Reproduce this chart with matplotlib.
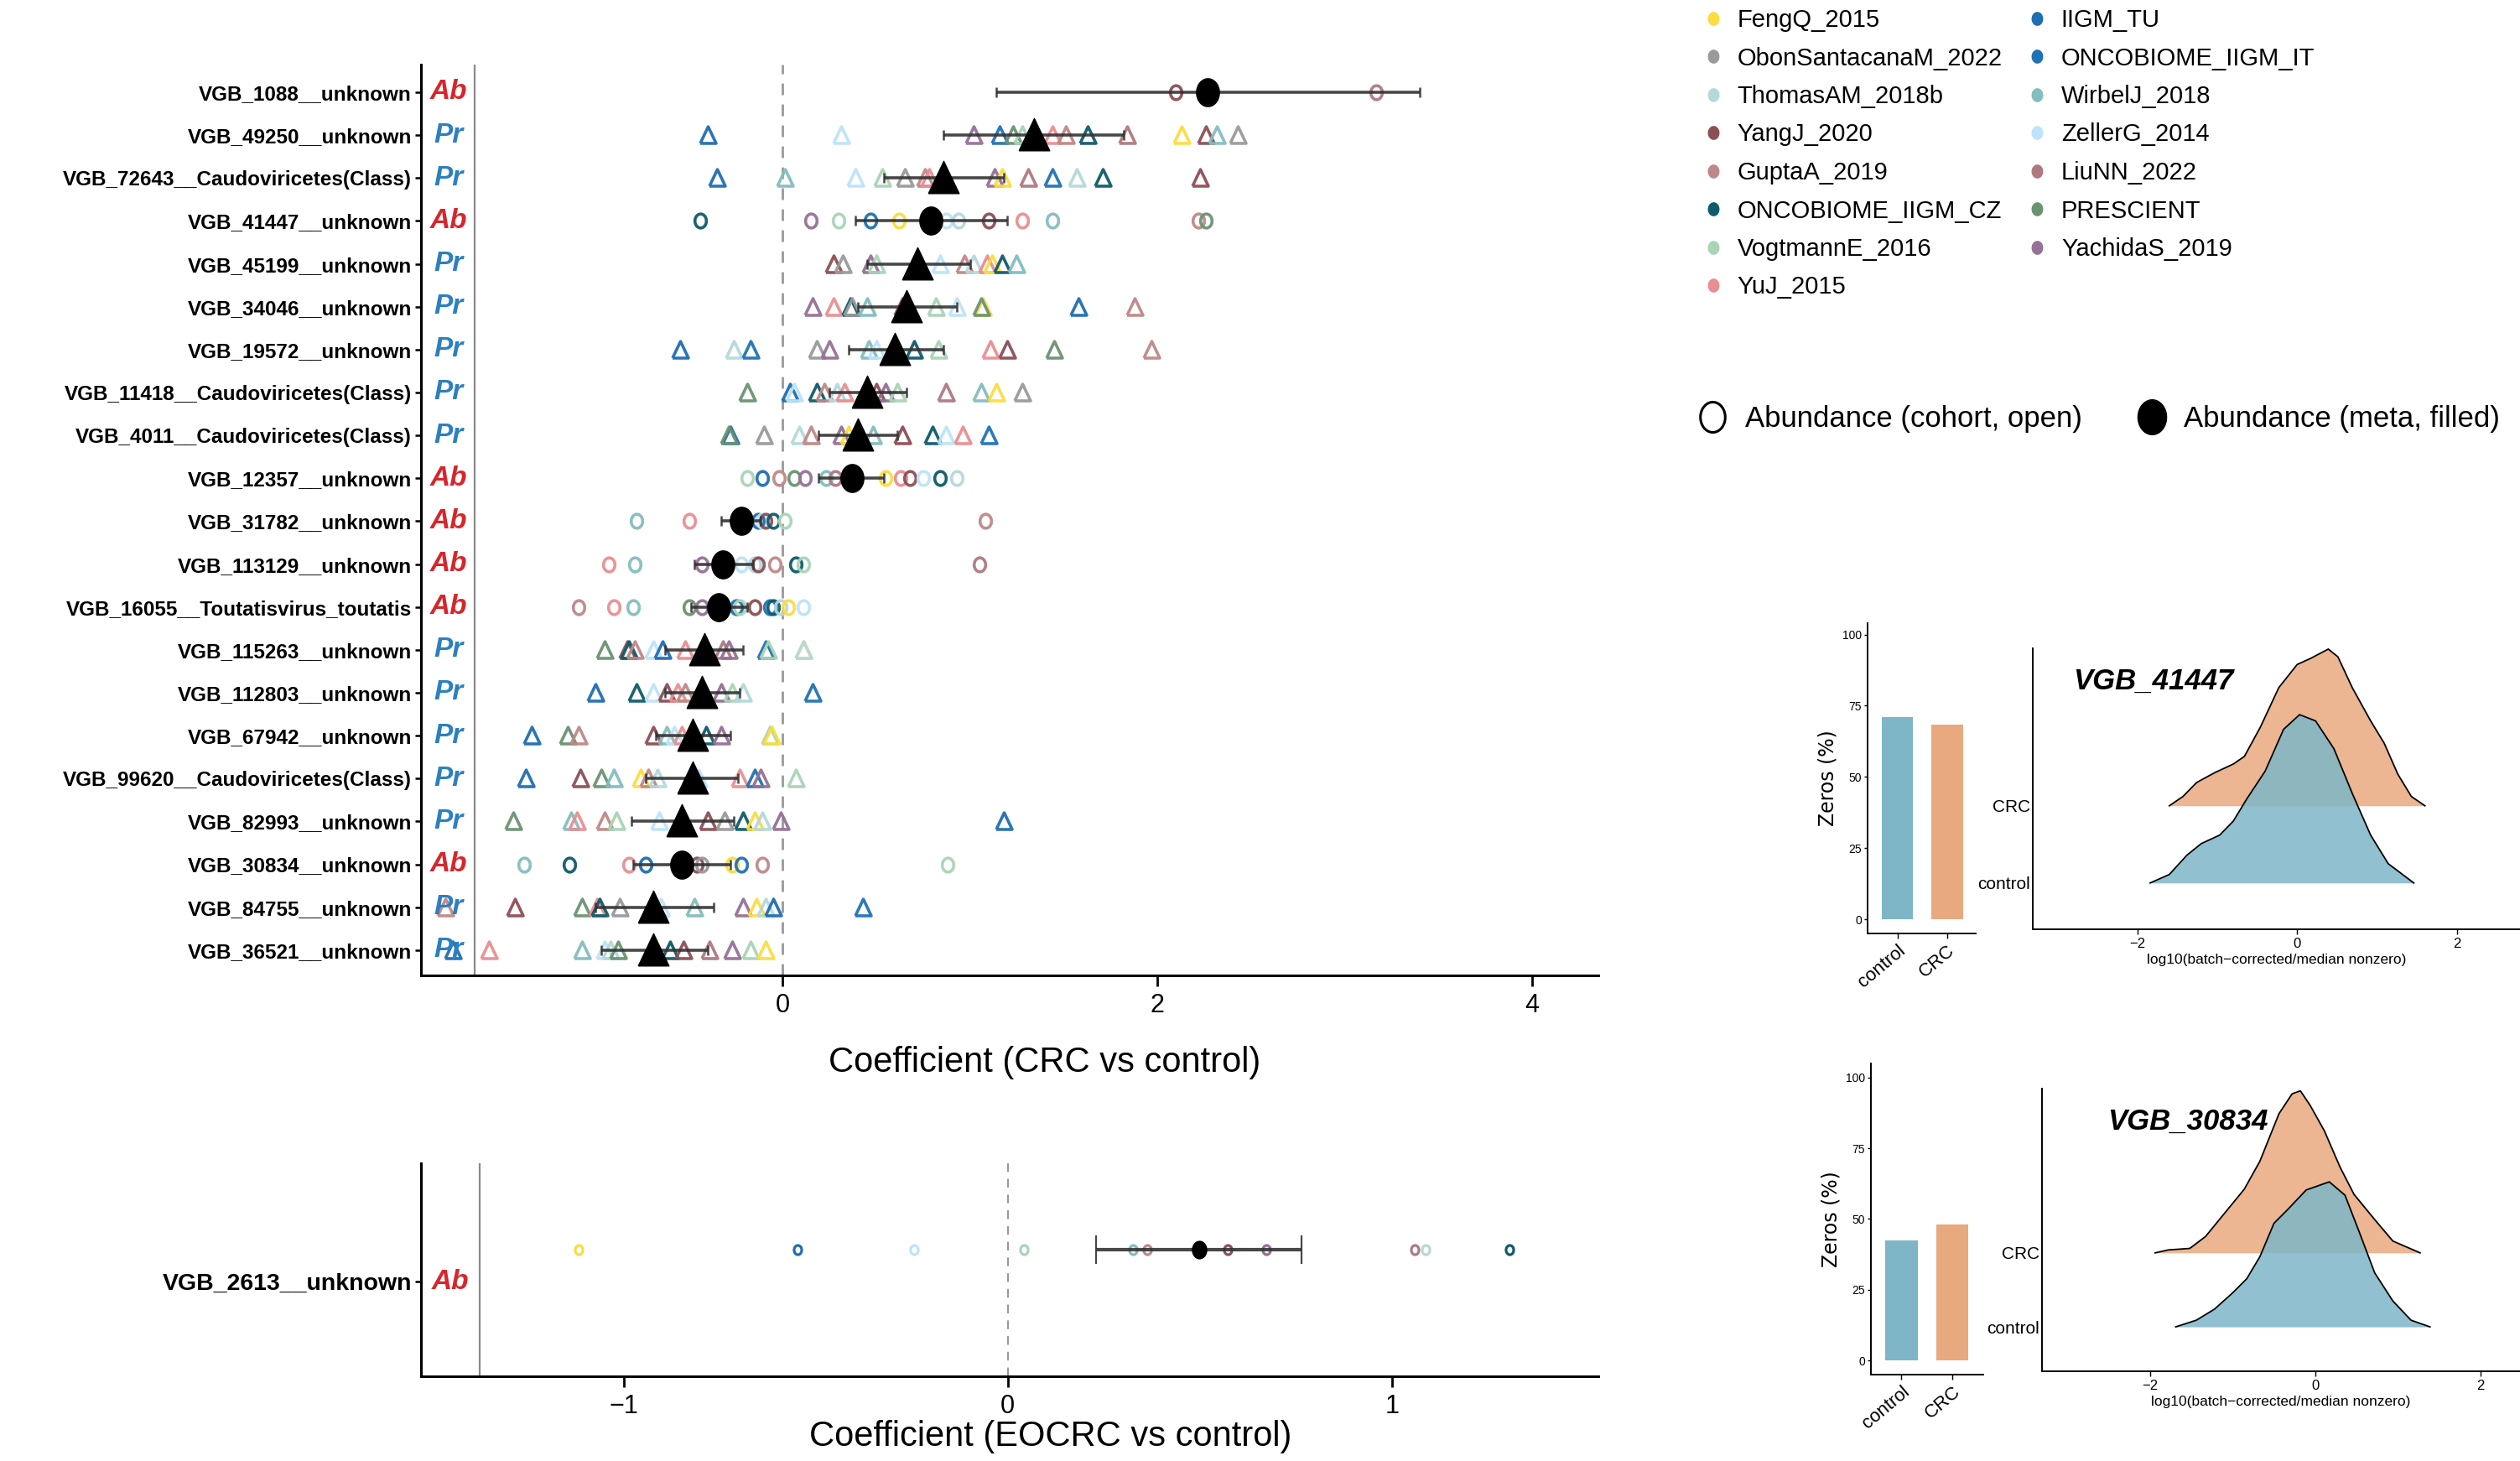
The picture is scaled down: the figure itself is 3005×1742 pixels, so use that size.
import numpy as np
import matplotlib.pyplot as plt
from matplotlib.lines import Line2D

NARROW = ['Liberation Sans Narrow', 'Liberation Sans', 'DejaVu Sans']
plt.rcParams['font.family'] = NARROW

# ---- cohorts ----
cohort_keys = ['Feng', 'Obon', 'Thom', 'Yang', 'Gupt', 'CZ', 'Vogt', 'YuJ',
               'TU', 'IT', 'Wirb', 'Zell', 'Liu', 'PRES', 'Yach']
cohort_names = ['FengQ_2015', 'ObonSantacanaM_2022', 'ThomasAM_2018b', 'YangJ_2020',
                'GuptaA_2019', 'ONCOBIOME_IIGM_CZ', 'VogtmannE_2016', 'YuJ_2015',
                'IIGM_TU', 'ONCOBIOME_IIGM_IT', 'WirbelJ_2018', 'ZellerG_2014',
                'LiuNN_2022', 'PRESCIENT', 'YachidaS_2019']
cohort_colors = ['#FBDD3F', '#9A9A9A', '#B5D8DA', '#8C4F56', '#BF8888', '#0E5B6B',
                 '#A9D4B6', '#E98E92', '#1F6EB0', '#2172B4', '#84BDBE', '#BDE3F8',
                 '#AE7980', '#6A9372', '#957196']
col_of = dict(zip(cohort_keys, cohort_colors))

# ---- CRC vs control ----
features = ['VGB_1088__unknown', 'VGB_49250__unknown', 'VGB_72643__Caudoviricetes(Class)',
            'VGB_41447__unknown', 'VGB_45199__unknown', 'VGB_34046__unknown',
            'VGB_19572__unknown', 'VGB_11418__Caudoviricetes(Class)',
            'VGB_4011__Caudoviricetes(Class)', 'VGB_12357__unknown', 'VGB_31782__unknown',
            'VGB_113129__unknown', 'VGB_16055__Toutatisvirus_toutatis', 'VGB_115263__unknown',
            'VGB_112803__unknown', 'VGB_67942__unknown', 'VGB_99620__Caudoviricetes(Class)',
            'VGB_82993__unknown', 'VGB_30834__unknown', 'VGB_84755__unknown',
            'VGB_36521__unknown']
feat_type = ['Ab', 'Pr', 'Pr', 'Ab', 'Pr', 'Pr', 'Pr', 'Pr', 'Pr', 'Ab', 'Ab',
             'Ab', 'Ab', 'Pr', 'Pr', 'Pr', 'Pr', 'Pr', 'Ab', 'Pr', 'Pr']
meta_est = [2.27, 1.34, 0.86, 0.79, 0.72, 0.66, 0.60, 0.45, 0.40, 0.37, -0.22,
            -0.32, -0.34, -0.42, -0.43, -0.48, -0.48, -0.54, -0.54, -0.69, -0.69]
meta_lo = [1.14, 0.86, 0.54, 0.39, 0.45, 0.40, 0.35, 0.25, 0.19, 0.19, -0.33,
           -0.47, -0.49, -0.63, -0.63, -0.68, -0.73, -0.81, -0.80, -1.00, -0.97]
meta_hi = [3.40, 1.82, 1.18, 1.20, 1.00, 0.93, 0.86, 0.66, 0.61, 0.54, -0.12,
           -0.16, -0.19, -0.21, -0.23, -0.28, -0.24, -0.26, -0.28, -0.37, -0.40]
cohort_pts = [
    [('Yang', 2.10), ('Liu', 3.17)],
    [('TU', -0.40), ('Zell', 0.31), ('Yach', 1.02), ('IT', 1.16), ('PRES', 1.23), ('Vogt', 1.28),
     ('YuJ', 1.44), ('Gupt', 1.51), ('CZ', 1.63), ('Liu', 1.84), ('Feng', 2.13), ('Yang', 2.26),
     ('Wirb', 2.32), ('Obon', 2.43)],
    [('TU', -0.35), ('Wirb', 0.01), ('Zell', 0.39), ('Vogt', 0.53), ('Obon', 0.65), ('Gupt', 0.76),
     ('YuJ', 0.78), ('Yach', 1.13), ('Feng', 1.17), ('Liu', 1.31), ('IT', 1.44), ('Thom', 1.57),
     ('CZ', 1.71), ('Yang', 2.23)],
    [('CZ', -0.44), ('Yach', 0.15), ('Vogt', 0.30), ('IT', 0.47), ('Feng', 0.62), ('Zell', 0.87),
     ('Thom', 0.94), ('Yang', 1.10), ('YuJ', 1.28), ('Wirb', 1.44), ('Gupt', 2.22), ('PRES', 2.26)],
    [('Yang', 0.27), ('Obon', 0.32), ('Yach', 0.47), ('Vogt', 0.50), ('Zell', 0.84), ('Gupt', 0.97),
     ('Thom', 1.02), ('YuJ', 1.09), ('Feng', 1.12), ('CZ', 1.17), ('Wirb', 1.25)],
    [('Yach', 0.16), ('YuJ', 0.27), ('CZ', 0.36), ('Obon', 0.37), ('Wirb', 0.45), ('Yang', 0.64),
     ('Vogt', 0.82), ('Zell', 0.93), ('Feng', 1.07), ('PRES', 1.06), ('TU', 1.58), ('Gupt', 1.88)],
    [('TU', -0.55), ('Thom', -0.26), ('IT', -0.17), ('Obon', 0.18), ('Yach', 0.25), ('Wirb', 0.46),
     ('Zell', 0.50), ('Feng', 0.58), ('CZ', 0.70), ('Vogt', 0.83), ('YuJ', 1.11), ('Yang', 1.20),
     ('PRES', 1.45), ('Gupt', 1.97)],
    [('PRES', -0.19), ('TU', 0.04), ('Zell', 0.06), ('CZ', 0.18), ('Gupt', 0.22), ('Thom', 0.29),
     ('YuJ', 0.33), ('Yang', 0.50), ('Yach', 0.55), ('Vogt', 0.61), ('Liu', 0.87), ('Wirb', 1.06),
     ('Feng', 1.14), ('Obon', 1.28)],
    [('TU', -0.28), ('PRES', -0.29), ('Obon', -0.10), ('Thom', 0.09), ('Gupt', 0.15), ('Yach', 0.31),
     ('Feng', 0.35), ('Wirb', 0.48), ('Yang', 0.64), ('CZ', 0.80), ('Zell', 0.87), ('YuJ', 0.96),
     ('IT', 1.10)],
    [('Vogt', -0.19), ('TU', -0.11), ('Gupt', -0.02), ('PRES', 0.06), ('Yach', 0.12), ('Wirb', 0.23),
     ('Liu', 0.28), ('Feng', 0.55), ('YuJ', 0.63), ('Yang', 0.68), ('Zell', 0.75), ('CZ', 0.84),
     ('Thom', 0.93)],
    [('Wirb', -0.78), ('YuJ', -0.50), ('TU', -0.13), ('Zell', -0.11), ('Yang', -0.09), ('CZ', -0.05),
     ('Vogt', 0.01), ('Gupt', 1.08)],
    [('YuJ', -0.93), ('Wirb', -0.79), ('Yach', -0.43), ('Zell', -0.22), ('Thom', -0.15),
     ('Yang', -0.13), ('Gupt', -0.04), ('CZ', 0.07), ('Vogt', 0.11), ('Liu', 1.05)],
    [('Gupt', -1.09), ('YuJ', -0.90), ('Wirb', -0.80), ('PRES', -0.50), ('Yach', -0.43), ('TU', -0.25),
     ('Vogt', -0.23), ('Yang', -0.15), ('IT', -0.07), ('CZ', -0.05), ('Thom', -0.01), ('Feng', 0.03),
     ('Zell', 0.11)],
    [('PRES', -0.95), ('Yang', -0.83), ('CZ', -0.82), ('Gupt', -0.79), ('Zell', -0.69), ('TU', -0.64),
     ('YuJ', -0.52), ('Liu', -0.32), ('Yach', -0.29), ('IT', -0.09), ('Vogt', -0.08), ('Feng', 0.11),
     ('Thom', 0.11)],
    [('TU', -1.00), ('CZ', -0.78), ('Zell', -0.69), ('Yang', -0.62), ('YuJ', -0.56), ('Gupt', -0.52),
     ('Yach', -0.33), ('Vogt', -0.27), ('Thom', -0.21), ('IT', 0.16)],
    [('TU', -1.34), ('PRES', -1.15), ('Gupt', -1.09), ('Yang', -0.69), ('Wirb', -0.62), ('Zell', -0.58),
     ('YuJ', -0.54), ('CZ', -0.41), ('Yach', -0.33), ('Vogt', -0.07), ('Feng', -0.06)],
    [('TU', -1.37), ('Yang', -1.08), ('PRES', -0.97), ('Wirb', -0.90), ('Feng', -0.76), ('Gupt', -0.72),
     ('Thom', -0.67), ('Zell', -0.45), ('YuJ', -0.23), ('IT', -0.15), ('Yach', -0.12), ('Vogt', 0.07)],
    [('PRES', -1.44), ('Wirb', -1.13), ('YuJ', -1.10), ('Gupt', -0.95), ('Vogt', -0.89), ('Zell', -0.66),
     ('Yang', -0.40), ('Obon', -0.31), ('CZ', -0.21), ('Feng', -0.15), ('Thom', -0.11), ('Yach', -0.01),
     ('TU', 1.18)],
    [('Wirb', -1.38), ('CZ', -1.14), ('YuJ', -0.82), ('TU', -0.73), ('Yang', -0.46), ('Obon', -0.43),
     ('Feng', -0.27), ('IT', -0.22), ('Gupt', -0.11), ('Vogt', 0.88)],
    [('Gupt', -1.80), ('Yang', -1.43), ('PRES', -1.07), ('YuJ', -0.99), ('CZ', -0.98), ('Obon', -0.87),
     ('Zell', -0.65), ('Wirb', -0.47), ('Yach', -0.21), ('Feng', -0.14), ('Thom', -0.09), ('TU', -0.05),
     ('IT', 0.43)],
    [('TU', -1.76), ('YuJ', -1.57), ('Wirb', -1.07), ('Zell', -0.95), ('Thom', -0.92), ('PRES', -0.88),
     ('CZ', -0.60), ('Yang', -0.53), ('Liu', -0.39), ('Yach', -0.27), ('Vogt', -0.17), ('Feng', -0.09)],
]

# ---- EOCRC vs control ----
eo_feature = 'VGB_2613__unknown'
eo_type = 'Ab'
eo_meta = 0.498
eo_lo, eo_hi = 0.230, 0.766
eo_pts = [('Feng', -1.118), ('TU', -0.548), ('Zell', -0.243), ('Vogt', 0.042), ('Wirb', 0.326),
          ('Gupt', 0.364), ('Yang', 0.573), ('Yach', 0.674), ('Liu', 1.059), ('Thom', 1.088),
          ('CZ', 1.306)]

# ---- zero fractions and ridge densities ----
groups = ['control', 'CRC']
grp_colors = ['#7EB6C8', '#E8A97E']
zeros_41447 = [71.0, 68.5]
zeros_30834 = [42.5, 48.0]

crc_x_41447 = [-1.60, -1.43, -1.26, -1.03, -0.80, -0.66, -0.46, -0.23, 0.00, 0.17, 0.39, 0.51,
               0.69, 0.92, 1.09, 1.26, 1.43, 1.60]
crc_h_41447 = [0.00, 0.12, 0.30, 0.43, 0.54, 0.64, 1.02, 1.53, 1.83, 1.91, 2.03, 1.93,
               1.53, 1.10, 0.81, 0.41, 0.12, 0.00]
ctl_x_41447 = [-1.84, -1.60, -1.38, -1.20, -0.97, -0.80, -0.63, -0.40, -0.17, 0.03, 0.23, 0.46,
               0.69, 0.92, 1.14, 1.46]
ctl_h_41447 = [0.00, 0.11, 0.36, 0.51, 0.62, 0.80, 1.09, 1.45, 1.99, 2.18, 2.10, 1.74,
               1.16, 0.62, 0.25, 0.00]
crc_x_30834 = [-1.94, -1.78, -1.52, -1.33, -1.11, -0.86, -0.67, -0.44, -0.28, -0.18, -0.06, 0.11,
               0.30, 0.47, 0.72, 0.94, 1.27]
crc_h_30834 = [0.00, 0.04, 0.06, 0.22, 0.52, 0.86, 1.24, 1.88, 2.15, 2.19, 1.99, 1.65,
               1.16, 0.79, 0.45, 0.16, 0.00]
ctl_x_30834 = [-1.69, -1.44, -1.22, -1.00, -0.83, -0.67, -0.50, -0.33, -0.11, 0.17, 0.36, 0.53,
               0.72, 0.94, 1.16, 1.39]
ctl_h_30834 = [0.00, 0.09, 0.24, 0.46, 0.65, 0.95, 1.40, 1.59, 1.85, 1.96, 1.78, 1.29,
               0.73, 0.35, 0.09, 0.00]

type_color = {'Ab': '#D7262B', 'Pr': '#2B80C0'}

# marker shapes (the original is horizontally squeezed)
t = np.linspace(0, 2 * np.pi, 41)
ELL = np.column_stack([0.82 * np.cos(t), np.sin(t)])
TRI = np.array([[-0.5, -0.5], [0.5, -0.5], [0.0, 0.55], [-0.5, -0.5]])
W, H = 3005, 1742


def frac(l, t_, r, b):
    return [l / W, 1 - b / H, (r - l) / W, (b - t_) / H]


def style_axes(ax):
    for s in ['top', 'right']:
        ax.spines[s].set_visible(False)
    for s in ['left', 'bottom']:
        ax.spines[s].set_linewidth(2.2)


fig = plt.figure(figsize=(W / 100, H / 100), dpi=100)

# ================= top forest =================
ax = fig.add_axes(frac(502, 77, 1906, 1163))
style_axes(ax)
ypos = np.arange(1, len(features) + 1)
ax.axvline(0, color='#999999', ls=(0, (5, 4)), lw=2)
ax.axvline(-1.646, color='#8a8a8a', lw=1.6)
for i, pts in enumerate(cohort_pts):
    mk = ELL if feat_type[i] == 'Ab' else TRI
    ms = 12 if feat_type[i] == 'Ab' else 15
    for key, v in pts:
        ax.plot(v, ypos[i], marker=mk, ms=ms, mfc='none', mec=col_of[key], mew=2.6,
                ls='none', alpha=0.95)
for i in range(len(features)):
    ax.errorbar(meta_est[i], ypos[i], xerr=[[meta_est[i] - meta_lo[i]], [meta_hi[i] - meta_est[i]]],
                fmt='none', ecolor='#333333', elinewidth=2.6, capsize=4, capthick=1.8, alpha=0.9)
    if feat_type[i] == 'Ab':
        ax.plot(meta_est[i], ypos[i], marker=ELL, ms=24, color='black', ls='none')
    else:
        ax.plot(meta_est[i], ypos[i], marker=TRI, ms=29, color='black', ls='none')
    ax.text(-1.785, ypos[i], feat_type[i], color=type_color[feat_type[i]], fontsize=24,
            fontweight='bold', style='italic', ha='center', va='center')
ax.set_xlim(-1.932, 4.356)
ax.set_ylim(21.59, 0.355)
ax.set_yticks(ypos)
ax.set_yticklabels(features, fontsize=17.5, fontweight='bold')
ax.set_xticks([0, 2, 4])
ax.tick_params(axis='x', length=9, width=2, labelsize=22, pad=6)
ax.tick_params(axis='y', length=5, width=1.8, pad=3)
ax.set_xlabel('Coefficient (CRC vs control)', fontsize=30)
ax.xaxis.set_label_coords(0.53, -0.077)

# ================= bottom forest =================
ax2 = fig.add_axes(frac(502, 1387, 1906, 1641))
style_axes(ax2)
ax2.axvline(0, color='#999999', ls=(0, (5, 4)), lw=1.5)
ax2.axvline(-1.375, color='#8a8a8a', lw=1.6)
yp = 1.15
for key, v in eo_pts:
    ax2.plot(v, yp, marker=ELL, ms=8, mfc='none', mec=col_of[key], mew=2.3, ls='none')
ax2.errorbar(eo_meta, yp, xerr=[[eo_meta - eo_lo], [eo_hi - eo_meta]], fmt='none',
             ecolor='#333333', elinewidth=3, capsize=12, capthick=1.6, alpha=0.9)
ax2.plot(eo_meta, yp, marker=ELL, ms=15, color='black', ls='none')
ax2.text(-1.452, 1.0, eo_type, color=type_color[eo_type], fontsize=24, fontweight='bold',
         style='italic', ha='center', va='center')
ax2.set_xlim(-1.528, 1.538)
ax2.set_ylim(0.556, 1.556)
ax2.set_yticks([1.0])
ax2.set_yticklabels([eo_feature], fontsize=20.5, fontweight='bold')
ax2.set_xticks([-1, 0, 1])
ax2.tick_params(axis='x', length=9, width=2, labelsize=22, pad=6)
ax2.tick_params(axis='y', length=5, width=1.8, pad=3)
ax2.set_xlabel('Coefficient (EOCRC vs control)', fontsize=30)
ax2.xaxis.set_label_coords(0.535, -0.205)

# ================= legends =================
handles = [Line2D([], [], marker=ELL, ms=11, color=c, ls='none') for c in cohort_colors]
fig.legend(handles, cohort_names, ncol=2, loc='upper left', bbox_to_anchor=(2028 / W, 1 - 10 / H),
           frameon=False, fontsize=21, labelspacing=0.6, handletextpad=0.5,
           columnspacing=0.9, handlelength=1.0, borderpad=0, borderaxespad=0)
shape_h = [Line2D([], [], marker=ELL, ms=26, mfc='none', mec='black', mew=2.2, ls='none'),
           Line2D([], [], marker=ELL, ms=30, color='black', ls='none')]
fig.legend(shape_h, ['Abundance (cohort, open)', 'Abundance (meta, filled)'], ncol=2,
           loc='center left', bbox_to_anchor=(2025 / W, 1 - 500 / H), frameon=False,
           fontsize=25, handletextpad=0.6, columnspacing=1.9, handlelength=1.0,
           borderpad=0, borderaxespad=0)

# ================= right panels =================
panels = [
    ('VGB_41447', zeros_41447, (2227, 743, 2356, 1113), (-0.6, 1.58), (-5, 104),
     (2424, 773, 3005, 1108), (-3.31, 2.79), (0.4, 4.04),
     crc_x_41447, crc_h_41447, ctl_x_41447, ctl_h_41447, (-2.80, 3.61)),
    ('VGB_30834', zeros_30834, (2231, 1268, 2365, 1639), (-0.6, 1.61), (-5, 105),
     (2435, 1298, 3005, 1635), (-3.31, 2.48), (0.4, 4.22),
     crc_x_30834, crc_h_30834, ctl_x_30834, ctl_h_30834, (-2.52, 3.77)),
]
for (name, zeros, bbox, bxl, byl, rbox, rxl, ryl, cx, ch, kx, kh, tpos) in panels:
    bx = fig.add_axes(frac(*bbox))
    style_axes(bx)
    for s in ['left', 'bottom']:
        bx.spines[s].set_linewidth(1.4)
    bx.bar([0, 1], zeros, width=0.64, color=grp_colors)
    bx.set_xlim(*bxl)
    bx.set_ylim(*byl)
    bx.set_yticks([0, 25, 50, 75, 100])
    bx.set_xticks([0, 1])
    bx.set_xticklabels(groups, rotation=40, ha='right', rotation_mode='anchor', fontsize=16)
    bx.tick_params(axis='y', labelsize=10, length=3, width=1, pad=2)
    bx.tick_params(axis='x', length=4, width=1, pad=3)
    bx.set_ylabel('Zeros (%)', fontsize=17, family='DejaVu Sans', labelpad=4)

    rx = fig.add_axes(frac(*rbox))
    style_axes(rx)
    for s in ['left', 'bottom']:
        rx.spines[s].set_linewidth(1.4)
    rx.fill_between(cx, 2, 2 + np.array(ch), color=grp_colors[1], alpha=0.85, lw=0)
    rx.plot(cx, 2 + np.array(ch), color='black', lw=1.3)
    rx.fill_between(kx, 1, 1 + np.array(kh), color=grp_colors[0], alpha=0.85, lw=0)
    rx.plot(kx, 1 + np.array(kh), color='black', lw=1.3)
    rx.set_xlim(*rxl)
    rx.set_ylim(*ryl)
    rx.set_yticks([1, 2])
    rx.set_yticklabels(groups, fontsize=15)
    rx.tick_params(axis='y', length=0, pad=2)
    rx.set_xticks([-2, 0, 2])
    rx.tick_params(axis='x', labelsize=12, length=4, width=1, pad=3)
    rx.set_xlabel('log10(batch\u2212corrected/median nonzero)', fontsize=12.5, labelpad=3)
    rx.text(tpos[0], tpos[1], name, fontsize=25, fontweight='bold', style='italic',
            ha='left', va='center')

fig.savefig('out.png', dpi=100)
